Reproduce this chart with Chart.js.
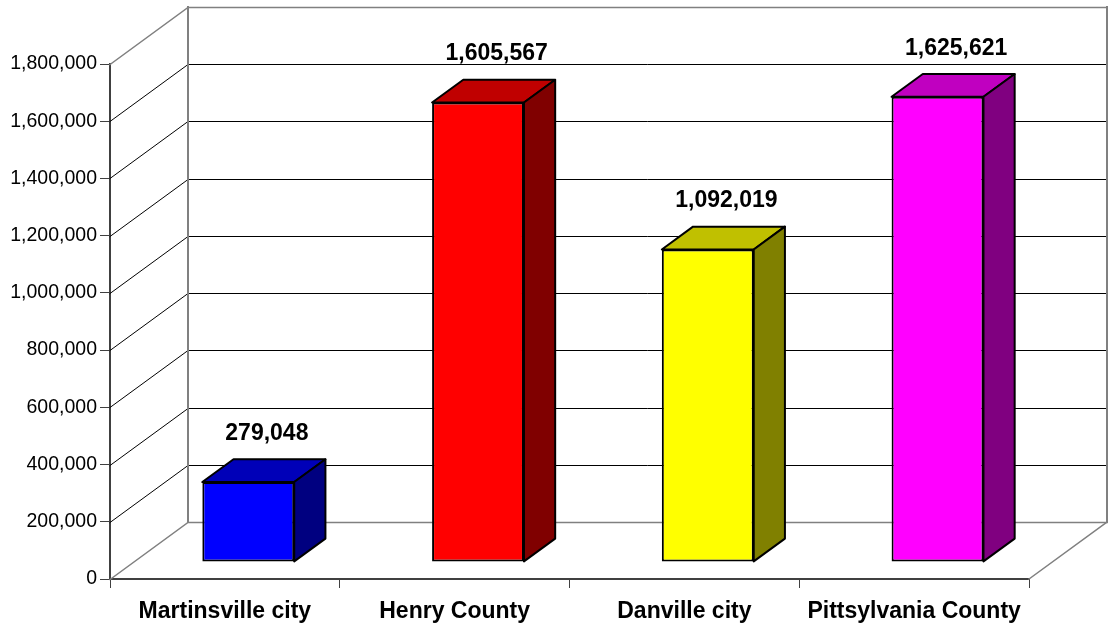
<!DOCTYPE html>
<html>
<head>
<meta charset="utf-8">
<script src="https://cdn.jsdelivr.net/npm/chart.js@4.4.1/dist/chart.umd.min.js"></script>
<style>
  html, body { margin: 0; padding: 0; background: #fff; }
  #wrap { width: 1110px; height: 625px; }
</style>
</head>
<body>
<div id="wrap"><canvas id="grafico" width="1110" height="625"></canvas></div>
<script>
const categorias = ["Martinsville city", "Henry County", "Danville city", "Pittsylvania County"];
const valores = [279048, 1605567, 1092019, 1625621];
const ejeMax = 1800000;
const ejePaso = 200000;

const coloresFrente = ["#0000FF", "#FF0000", "#FFFF00", "#FF00FF"];
const coloresTapa = ["#0000B8", "#C00000", "#C0C000", "#C000C0"];
const coloresLado = ["#000080", "#800000", "#808000", "#800080"];

// proyeccion oblicua: desplazamiento de la pared del fondo
const FONDO_X = 78;
const FONDO_Y = 57;
const BARRA_DESDE = 0.3; // profundidad de la cara frontal de la barra
const BARRA_PROF = 0.4;  // grosor de la barra en profundidad

const FUENTE = "'Liberation Sans', Arial, sans-serif";

const fmt = (v) => Number(v).toLocaleString("en-US");

const paredes3d = {
  id: "paredes3d",
  beforeDatasetsDraw(chart) {
    const { ctx, chartArea } = chart;
    const y = chart.scales.y;
    const izq = chartArea.left;
    const der = chartArea.right;
    const y0 = y.getPixelForValue(0);
    const yMax = y.getPixelForValue(ejeMax);

    ctx.save();
    ctx.lineCap = "square";
    // lineas de la cuadricula: pared izquierda y pared del fondo
    for (let v = 0; v <= ejeMax; v += ejePaso) {
      const py = Math.round(y.getPixelForValue(v)) + 0.5;
      const borde = v === 0 || v === ejeMax;
      ctx.strokeStyle = borde ? "#808080" : "#000";
      ctx.lineWidth = borde ? 1.5 : 1;
      ctx.beginPath();
      ctx.moveTo(izq, py);
      ctx.lineTo(izq + FONDO_X, py - FONDO_Y);
      ctx.lineTo(der + FONDO_X, py - FONDO_Y);
      ctx.stroke();
    }
    // bordes de la pared del fondo y del piso
    ctx.strokeStyle = "#808080";
    ctx.lineWidth = 2;
    ctx.beginPath();
    ctx.moveTo(izq + FONDO_X, y0 - FONDO_Y);
    ctx.lineTo(izq + FONDO_X, yMax - FONDO_Y);
    ctx.moveTo(der + FONDO_X, y0 - FONDO_Y);
    ctx.lineTo(der + FONDO_X, yMax - FONDO_Y);
    ctx.stroke();
    ctx.lineWidth = 1.5;
    ctx.beginPath();
    ctx.moveTo(der, y0);
    ctx.lineTo(der + FONDO_X, y0 - FONDO_Y);
    ctx.stroke();
    ctx.restore();

    // las caras frontales se dibujan en el plano de profundidad de la barra
    ctx.save();
    ctx.translate(FONDO_X * BARRA_DESDE, -FONDO_Y * BARRA_DESDE);
  },
  afterDatasetsDraw(chart) {
    const { ctx } = chart;
    const meta = chart.getDatasetMeta(0);
    const dx = FONDO_X * BARRA_PROF;
    const dy = FONDO_Y * BARRA_PROF;

    ctx.lineWidth = 2;
    ctx.strokeStyle = "#000";
    ctx.lineJoin = "round";
    meta.data.forEach((bar, i) => {
      const { x, y, base, width } = bar.getProps(["x", "y", "base", "width"], true);
      const l = x - width / 2;
      const r = x + width / 2;

      // tapa
      ctx.beginPath();
      ctx.moveTo(l, y);
      ctx.lineTo(r, y);
      ctx.lineTo(r + dx, y - dy);
      ctx.lineTo(l + dx, y - dy);
      ctx.closePath();
      ctx.fillStyle = coloresTapa[i];
      ctx.fill();
      ctx.stroke();

      // lado derecho
      ctx.beginPath();
      ctx.moveTo(r, y);
      ctx.lineTo(r + dx, y - dy);
      ctx.lineTo(r + dx, base - dy);
      ctx.lineTo(r, base);
      ctx.closePath();
      ctx.fillStyle = coloresLado[i];
      ctx.fill();
      ctx.stroke();

      // etiqueta del valor sobre la barra
      ctx.fillStyle = "#000";
      ctx.font = "bold 23px " + FUENTE;
      ctx.textAlign = "center";
      ctx.textBaseline = "middle";
      ctx.fillText(fmt(valores[i]), x + dx / 2 + 3, y - dy / 2 - 37);
    });
    ctx.restore();
  },
};

new Chart(document.getElementById("grafico"), {
  type: "bar",
  data: {
    labels: categorias,
    datasets: [
      {
        data: valores,
        backgroundColor: coloresFrente,
        borderColor: "#000",
        borderWidth: 2,
        borderSkipped: false,
        barPercentage: BARRA_PROF,
        categoryPercentage: 1,
        clip: false,
      },
    ],
  },
  options: {
    responsive: false,
    animation: false,
    devicePixelRatio: 1,
    layout: { padding: { top: 64, right: 81, left: 0, bottom: 0 } },
    plugins: { legend: { display: false }, tooltip: { enabled: false } },
    scales: {
      x: {
        grid: { drawOnChartArea: false, tickLength: 9, color: "#404040", lineWidth: 1 },
        border: { display: true, color: "#404040", width: 2 },
        ticks: { color: "#000", font: { family: FUENTE, size: 23, weight: "bold" }, padding: 10, maxRotation: 0 },
        afterFit(scale) { scale.height = 46; },
      },
      y: {
        min: 0,
        max: ejeMax,
        grid: { drawOnChartArea: false, tickLength: 10, color: "#404040", lineWidth: 1 },
        border: { display: true, color: "#404040", width: 2 },
        ticks: {
          stepSize: ejePaso,
          color: "#000",
          padding: 3,
          font: { family: FUENTE, size: 19.5 },
          callback: (v) => fmt(v),
        },
        afterFit(scale) { scale.width = 110; },
      },
    },
  },
  plugins: [paredes3d],
});
</script>
</body>
</html>
